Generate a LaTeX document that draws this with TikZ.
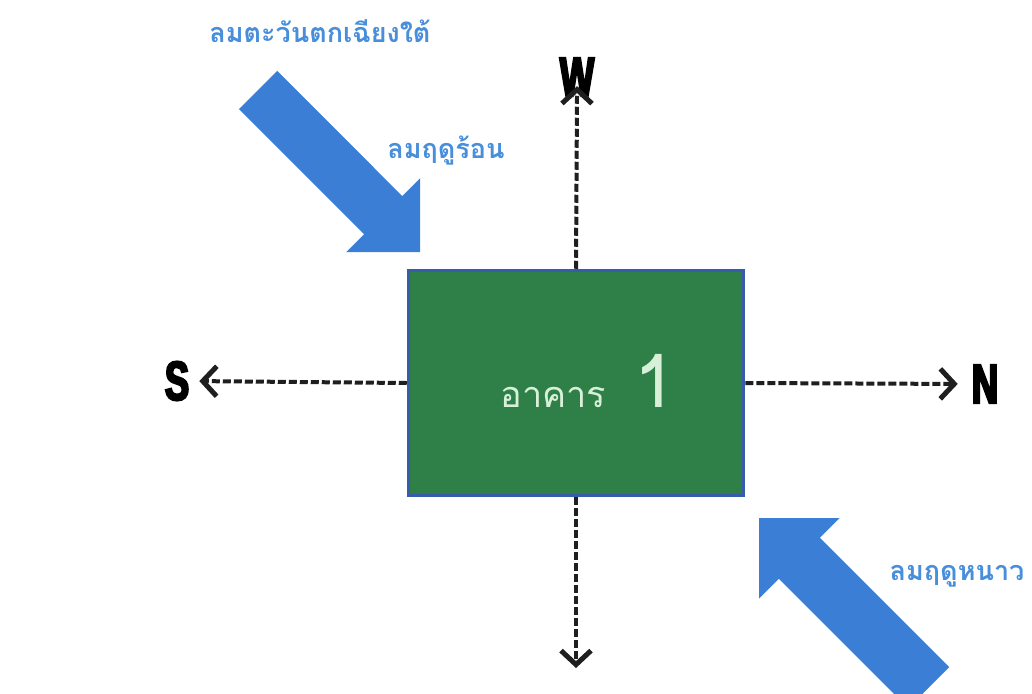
\documentclass[tikz,border=0pt]{standalone}
\usepackage{fontspec}
\usepackage{tikz}
\usetikzlibrary{arrows.meta, positioning}

\newfontfamily\thaifont[Script=Thai]{Loma}
\newfontfamily\dirfont[FakeStretch=0.66, FakeBold=4]{Liberation Sans}

\definecolor{windblue}{RGB}{58,127,213}
\definecolor{labelblue}{RGB}{72,142,218}
\definecolor{roofgreen}{RGB}{46,128,72}
\definecolor{edgeblue}{RGB}{55,92,172}
\definecolor{paleletter}{RGB}{215,240,215}

\begin{document}
\begin{tikzpicture}[x=1pt, y=-1pt,
    compass/.style={line width=4pt, dash pattern=on 8pt off 3pt, black!88,
        -{Straight Barb[length=14pt,width=30pt,line width'=5pt]}},
    dirlabel/.style={font=\dirfont\bfseries\fontsize{55}{55}\selectfont, inner sep=0pt},
    windlabel/.style={font=\thaifont\bfseries\fontsize{27}{30}\selectfont, text=labelblue, inner sep=0pt}]
    \useasboundingbox (0,0) rectangle (1032,693);
    \clip (0,0) rectangle (1032,693);

    % the building
    \node[draw=edgeblue, line width=3.5pt, fill=roofgreen, minimum width=335pt, minimum height=225pt] (bldg) at (576,383) {};
    \node[text=paleletter, inner sep=0pt] (bldgname) at (588,381)
        {{\thaifont\fontsize{36}{36}\selectfont อาคาร}\hspace{28pt}{\thaifont\fontsize{74}{74}\selectfont 1}};

    % compass directions
    \node[dirlabel] (w) at (577,77) {W};
    \node[dirlabel] (s) at (177,381) {S};
    \node[dirlabel] (n) at (985,384) {N};
    \coordinate (e) at (576,668);

    \draw[compass, shorten >=-10pt] (bldg.north) -- (w.south);
    \draw[compass, shorten >=10pt] (bldg.west) -- (s.east);
    \draw[compass, shorten >=14pt] (bldg.east) -- (n.west);
    \draw[compass] (bldg.south) -- (e);

    % hot wind from the south-west
    \fill[windblue] (277.3,70.9) -- (402.3,196.1) -- (420,178.4) -- (420,252)
        -- (346.4,252) -- (364.1,234.3) -- (238.9,109.1) -- cycle;
    % cold wind
    \fill[windblue] (759,518) -- (839.6,518) -- (819.8,537.8) -- (949.2,667.2)
        -- (908.2,708.2) -- (778.8,578.8) -- (759,598.6) -- cycle;

    \node[windlabel] (swwind) at (320,31) {ลมตะวันตกเฉียงใต้};
    \node[windlabel] (hotwind) at (446,151) {ลมฤดูร้อน};
    \node[windlabel] (coldwind) at (957,576) {ลมฤดูหนาว};
\end{tikzpicture}
\end{document}
